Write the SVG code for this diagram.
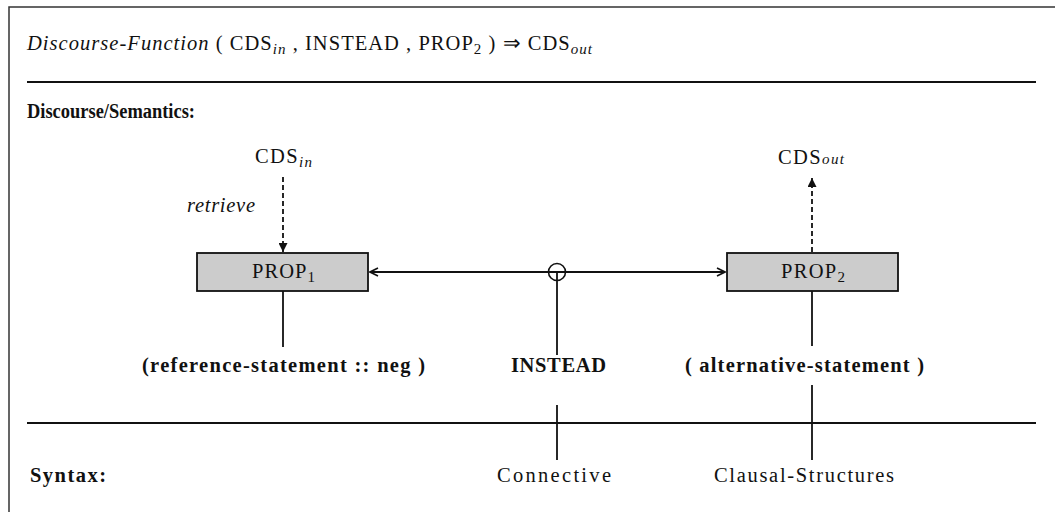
<svg xmlns="http://www.w3.org/2000/svg" width="1055" height="512" viewBox="0 0 1055 512">
<defs>
<style>
text{font-family:"Liberation Serif","Times New Roman",serif;font-size:20.5px;fill:#111}
.b{font-weight:bold}
.i{font-style:italic}
.sub{font-size:15px}
.ln{stroke:#111;stroke-width:1.8;fill:none}
.dash{stroke:#111;stroke-width:1.8;fill:none;stroke-dasharray:5 3}
.box{fill:#cccccc;stroke:#111;stroke-width:1.8}
</style>
<marker id="open" viewBox="0 0 10 10" refX="9" refY="5" markerWidth="10" markerHeight="10" markerUnits="userSpaceOnUse" orient="auto-start-reverse">
<path d="M1,1 L9,5 L1,9" fill="none" stroke="#111" stroke-width="1.6"/>
</marker>
<marker id="solid" viewBox="0 0 10 10" refX="10" refY="5" markerWidth="12" markerHeight="9" markerUnits="userSpaceOnUse" orient="auto">
<path d="M0,0 L10,5 L0,10 Z" fill="#111"/>
</marker>
</defs>
<g id="frame">
<path d="M9,520 V7 H1060" fill="none" stroke="#333" stroke-width="1.5"/>
<line class="ln" x1="27" y1="82" x2="1036" y2="82"/>
<line class="ln" x1="27" y1="423" x2="1036" y2="423"/>
</g>
<g id="title">
<text x="27" y="50" textLength="565" lengthAdjust="spacing"><tspan class="i">Discourse-Function</tspan> ( CDS<tspan class="i sub" dy="4">in</tspan><tspan dy="-4"> , INSTEAD , PROP</tspan><tspan class="sub" dy="4">2</tspan><tspan dy="-4"> ) ⇒ CDS</tspan><tspan class="i sub" dy="4">out</tspan></text>
</g>
<g id="sections">
<text class="b" x="27" y="118" textLength="168" lengthAdjust="spacingAndGlyphs">Discourse/Semantics:</text>
<text class="b" x="30" y="482" textLength="76" lengthAdjust="spacing">Syntax:</text>
</g>
<g id="cds-in">
<text x="255" y="163" textLength="57" lengthAdjust="spacing">CDS<tspan class="i sub" dy="4">in</tspan></text>
</g>
<g id="retrieve-label">
<text class="i" x="187" y="212" textLength="68" lengthAdjust="spacing">retrieve</text>
</g>
<g id="cds-out">
<text x="778" y="164" textLength="66" lengthAdjust="spacing">CDS<tspan class="i sub">out</tspan></text>
</g>
<g id="prop1">
<rect class="box" x="197" y="253" width="171" height="38"/>
<text x="252" y="278" textLength="63" lengthAdjust="spacing">PROP<tspan class="sub" dy="4">1</tspan></text>
</g>
<g id="prop2">
<rect class="box" x="727" y="253" width="171" height="38"/>
<text x="781" y="278" textLength="64" lengthAdjust="spacing">PROP<tspan class="sub" dy="4">2</tspan></text>
</g>
<g id="reference-statement">
<text class="b" x="142" y="372" textLength="283" lengthAdjust="spacing">(reference-statement :: neg )</text>
</g>
<g id="instead">
<text class="b" x="511" y="372" textLength="95" lengthAdjust="spacing">INSTEAD</text>
</g>
<g id="alternative-statement">
<text class="b" x="685" y="372" textLength="239" lengthAdjust="spacing">( alternative-statement )</text>
</g>
<g id="connective">
<text x="497" y="482" textLength="114" lengthAdjust="spacing">Connective</text>
</g>
<g id="clausal-structures">
<text x="714" y="482" textLength="180" lengthAdjust="spacing">Clausal-Structures</text>
</g>
<g id="connectors">
<line class="dash" x1="283" y1="177" x2="283" y2="252" marker-end="url(#solid)"/>
<line class="dash" x1="812" y1="252" x2="812" y2="178" marker-end="url(#solid)"/>
<line class="ln" x1="370" y1="272" x2="725" y2="272" marker-start="url(#open)" marker-end="url(#open)"/>
<circle cx="557" cy="272" r="8.5" fill="none" stroke="#111" stroke-width="1.6"/>
<line class="ln" x1="557" y1="272" x2="557" y2="355"/>
<line class="ln" x1="557" y1="405" x2="557" y2="460"/>
<line class="ln" x1="283" y1="291" x2="283" y2="347"/>
<line class="ln" x1="812" y1="291" x2="812" y2="346"/>
<line class="ln" x1="812" y1="385" x2="812" y2="460"/>
</g>
</svg>
